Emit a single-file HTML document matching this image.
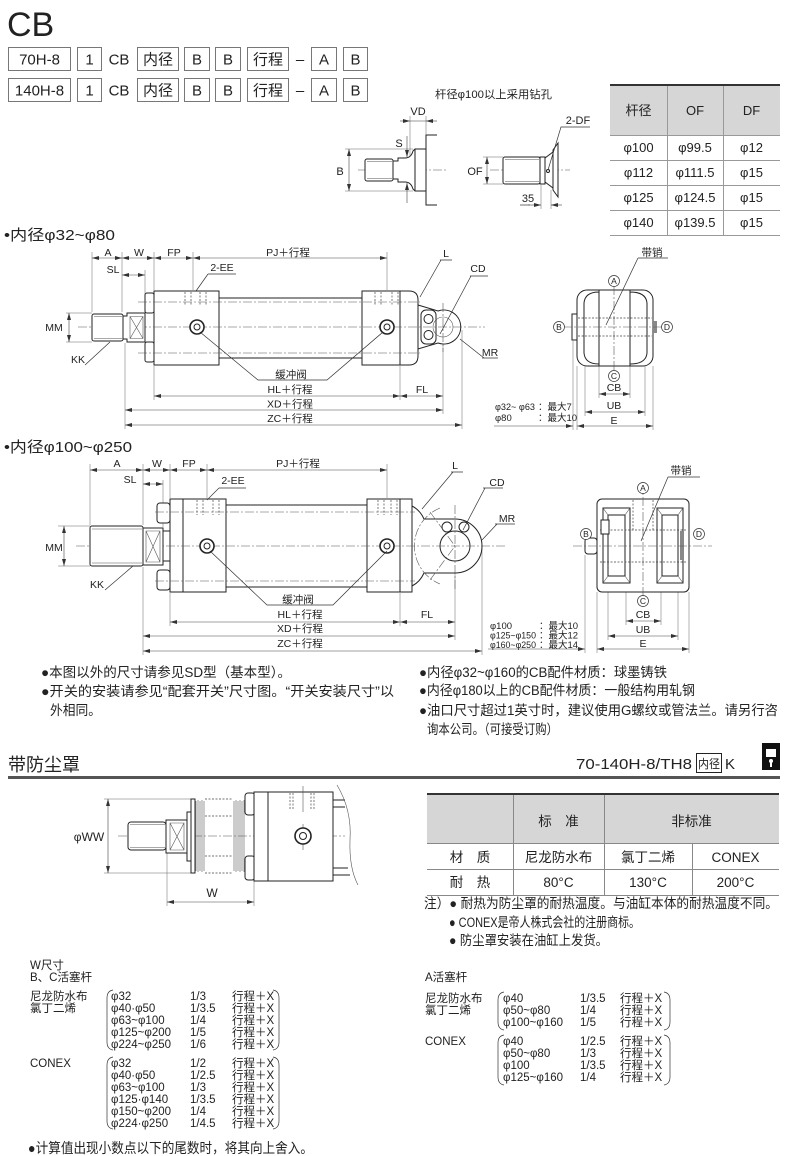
<!DOCTYPE html>
<html><head><meta charset="utf-8"><style>
html,body{margin:0;padding:0;background:#fff}
svg{display:block}
text{font-family:"Liberation Sans","Noto Sans CJK SC",sans-serif;fill:#222}
.o{stroke:#222;stroke-width:1;fill:#fff}
.n{stroke:#222;stroke-width:1;fill:none}
.b{stroke:#777;stroke-width:1;fill:none}
.t{stroke:#555;stroke-width:0.6;fill:none}
.c{stroke:#555;stroke-width:0.6;fill:none;stroke-dasharray:9 2 2 2}
.h{stroke:#444;stroke-width:0.7;fill:none;stroke-dasharray:2 1.5}
.d{stroke:#444;stroke-width:0.6;fill:none;marker-start:url(#ar);marker-end:url(#ar)}
.e{stroke:#444;stroke-width:0.6;fill:none;marker-end:url(#ar)}
.x{stroke:#666;stroke-width:0.5;fill:none}
.l{stroke:#333;stroke-width:0.7;fill:none}
</style></head><body>
<svg width="790" height="1156" viewBox="0 0 790 1156" xmlns="http://www.w3.org/2000/svg">
<defs>
<marker id="ar" markerUnits="userSpaceOnUse" markerWidth="7" markerHeight="5" refX="7" refY="2.5" orient="auto-start-reverse"><path d="M0,0.5L7,2.5L0,4.5z" fill="#333"/></marker>
</defs>

<!-- ===== Header ===== -->
<text x="7" y="36" font-size="34">CB</text>
<g class="b">
<rect x="8.5" y="47.5" width="62" height="23"/><rect x="77.5" y="47.5" width="24" height="23"/>
<rect x="137.5" y="47.5" width="41" height="23"/><rect x="184.5" y="47.5" width="25" height="23"/>
<rect x="215.5" y="47.5" width="25" height="23"/><rect x="247.5" y="47.5" width="41" height="23"/>
<rect x="311.5" y="47.5" width="25" height="23"/><rect x="343.5" y="47.5" width="24" height="23"/>
<rect x="8.5" y="78.5" width="62" height="23"/><rect x="77.5" y="78.5" width="24" height="23"/>
<rect x="137.5" y="78.5" width="41" height="23"/><rect x="184.5" y="78.5" width="25" height="23"/>
<rect x="215.5" y="78.5" width="25" height="23"/><rect x="247.5" y="78.5" width="41" height="23"/>
<rect x="311.5" y="78.5" width="25" height="23"/><rect x="343.5" y="78.5" width="24" height="23"/>
</g>
<g font-size="15" text-anchor="middle">
<text x="39.5" y="64.5">70H-8</text><text x="89.5" y="64.5">1</text><text x="119" y="64.5">CB</text>
<text x="158" y="64.5">内径</text><text x="197" y="64.5">B</text><text x="228" y="64.5">B</text>
<text x="268" y="64.5">行程</text><text x="300" y="64.5">–</text><text x="324" y="64.5">A</text><text x="355.5" y="64.5">B</text>
<text x="39.5" y="95.5">140H-8</text><text x="89.5" y="95.5">1</text><text x="119" y="95.5">CB</text>
<text x="158" y="95.5">内径</text><text x="197" y="95.5">B</text><text x="228" y="95.5">B</text>
<text x="268" y="95.5">行程</text><text x="300" y="95.5">–</text><text x="324" y="95.5">A</text><text x="355.5" y="95.5">B</text>
</g>

<!-- ===== Rod end details ===== -->
<text x="435" y="98" font-size="11" textLength="117" lengthAdjust="spacingAndGlyphs">杆径φ100以上采用钻孔</text>
<line class="c" x1="358" y1="170" x2="448" y2="170"/>
<rect class="o" x="365" y="159" width="28" height="22" rx="2"/>
<path class="t" d="M367,161.5H392M367,178.5H392"/>
<path class="o" d="M393,161H398V158H405Q411,158 413,151L415,149H426V191H415L413,189Q411,182 405,182H398V179H393Z"/>
<line class="n" x1="415" y1="149" x2="415" y2="191"/>
<path class="n" d="M437,135H426V205H437"/>
<path class="x" d="M345,149H413M345,191H413M410,116V156M426,116V135"/>
<line class="d" x1="349" y1="149" x2="349" y2="191"/>
<text x="340" y="175" font-size="11" text-anchor="middle">B</text>
<line class="e" x1="407" y1="136" x2="407" y2="157"/>
<line class="e" x1="407" y1="203" x2="407" y2="183"/>
<text x="399" y="147" font-size="11" text-anchor="middle">S</text>
<line class="e" x1="400" y1="121" x2="410" y2="121"/>
<line class="t" x1="410" y1="121" x2="426" y2="121"/>
<line class="e" x1="437" y1="121" x2="426" y2="121"/>
<text x="418" y="115" font-size="11" text-anchor="middle">VD</text>

<line class="c" x1="490" y1="170" x2="570" y2="170"/>
<rect class="o" x="503" y="157" width="37" height="27" rx="2"/>
<path class="t" d="M505,159.5H539M505,181.5H539"/>
<rect class="o" x="540" y="157" width="5" height="27"/>
<path class="o" d="M545,158L553,152V188L545,182Z"/>
<path class="o" d="M553,150L558,143V197L553,190Z"/>
<circle class="n" cx="548" cy="171" r="1.5"/>
<path class="x" d="M483,157H503M483,184H503M541,185V209M551,190V209"/>
<line class="d" x1="487" y1="157" x2="487" y2="184"/>
<text x="475" y="175" font-size="11" text-anchor="middle">OF</text>
<path class="l" d="M520,205H530"/>
<line class="e" x1="528" y1="205" x2="541" y2="205"/>
<line class="e" x1="562" y1="205" x2="551" y2="205"/>
<text x="528" y="202" font-size="11" text-anchor="middle">35</text>
<text x="578" y="124" font-size="11" text-anchor="middle">2-DF</text>
<path class="l" d="M590,127H561L548,170"/>

<!-- top-right table -->
<rect x="610" y="86" width="170" height="49" fill="#d6d6d6"/>
<line x1="610" y1="85" x2="780" y2="85" stroke="#333" stroke-width="2"/>
<path stroke="#999" stroke-width="1" fill="none" d="M610,135.5H780M610,160.5H780M610,185.5H780M610,210.5H780M610,235.5H780M667.5,86V235M723.5,86V235"/>
<g font-size="13" text-anchor="middle">
<text x="638.5" y="115">杆径</text><text x="695" y="115">OF</text><text x="751.5" y="115">DF</text>
<text x="638.5" y="152">φ100</text><text x="695" y="152">φ99.5</text><text x="751.5" y="152">φ12</text>
<text x="638.5" y="177">φ112</text><text x="695" y="177">φ111.5</text><text x="751.5" y="177">φ15</text>
<text x="638.5" y="202">φ125</text><text x="695" y="202">φ124.5</text><text x="751.5" y="202">φ15</text>
<text x="638.5" y="227">φ140</text><text x="695" y="227">φ139.5</text><text x="751.5" y="227">φ15</text>
</g>

<!-- ===== Section 1 ===== -->
<text x="4" y="240" font-size="15" textLength="111" lengthAdjust="spacingAndGlyphs">•内径φ32~φ80</text>
<g font-size="10.5" text-anchor="middle">
<text x="108" y="256">A</text><text x="139" y="256">W</text><text x="174" y="256">FP</text><text x="288" y="256">PJ＋行程</text>
<text x="113" y="273">SL</text><text x="222" y="271">2-EE</text>
<text x="291" y="378">缓冲阀</text><text x="290" y="393">HL＋行程</text><text x="422" y="393">FL</text>
<text x="290" y="407.5">XD＋行程</text><text x="290" y="422">ZC＋行程</text>
<text x="54" y="331">MM</text><text x="78" y="363">KK</text>
<text x="446" y="257">L</text><text x="478" y="272">CD</text><text x="490" y="356">MR</text>
</g>
<path class="x" d="M92,252V312M122,252V312M154,252V290M193,252V290M387,252V290M145,270V312M154,366V400M400,366V400M443,344V414M125,343V429M462,330V429M66,313H92M66,342H92"/>
<line class="d" x1="92" y1="258" x2="122" y2="258"/>
<line class="d" x1="122" y1="258" x2="154" y2="258"/>
<line class="d" x1="154" y1="258" x2="193" y2="258"/>
<line class="d" x1="193" y1="258" x2="387" y2="258"/>
<line class="d" x1="122" y1="275" x2="145" y2="275"/>
<line class="d" x1="154" y1="396" x2="400" y2="396"/>
<line class="d" x1="400" y1="396" x2="443" y2="396"/>
<line class="d" x1="125" y1="410" x2="443" y2="410"/>
<line class="d" x1="125" y1="425" x2="462" y2="425"/>
<line class="d" x1="69" y1="313" x2="69" y2="342"/>
<!-- body -->
<rect class="o" x="145" y="293" width="9" height="20" rx="2"/>
<rect class="o" x="145" y="342" width="9" height="20" rx="2"/>
<rect class="o" x="154" y="291" width="65" height="74"/>
<path class="n" d="M219,298H362M219,358H362"/>
<rect class="o" x="362" y="291" width="38" height="74"/>
<path class="o" d="M400,291H409Q418,291 418,300V356Q418,365 409,365H400Z"/>
<path class="o" d="M418,305L438,311A17,17 0 1 1 438,343L418,349Z"/>
<rect class="o" x="421" y="310" width="15" height="34" rx="5"/>
<circle class="o" cx="428.5" cy="319" r="4.5"/><circle class="o" cx="428.5" cy="335" r="4.5"/>
<circle class="t" cx="443" cy="327" r="10"/>
<path class="h" d="M185,292V305M191,292V305M200,292V305M206,292V305M375,292V305M381,292V305M392,292V305M398,292V305"/>
<path class="c" d="M138,302H420M138,353H420M78,327H485M443,303V352"/>
<rect class="o" x="92" y="314" width="31" height="27" rx="2"/>
<path class="t" d="M94,316.5H122M94,338.5H122"/>
<path class="o" d="M123,316H127V313H145V342H127V339H123Z"/>
<path class="t" d="M130,316.5H143V338.5H130ZM130,316.5L143,338.5M143,316.5L130,338.5"/>
<circle cx="197" cy="327" r="7" fill="#fff" stroke="#222" stroke-width="1.6"/><circle class="n" cx="197" cy="327" r="3"/>
<circle cx="387" cy="327" r="7" fill="#fff" stroke="#222" stroke-width="1.6"/><circle class="n" cx="387" cy="327" r="3"/>
<path class="l" d="M208,274H236M208,274L196,291M200,332L258,380H327L383,332M85,365L110,342M441,260L420,297M471,276L440,334M484,358L460,339"/>
<path class="l" d="M440,260H452M470,276H488M482,358H498"/>

<!-- side view 1 -->
<path class="x" d="M599,366V398M630,366V398M585,366V416M645,366V416M577,366V430M653,366V430M573,341V430"/>
<rect class="o" x="577" y="290" width="76" height="76" rx="10"/>
<path class="n" d="M599,290V366M630,290V366M599,292Q585,292 584,303V353Q585,364 599,364M630,292Q646,292 647,303V353Q646,364 630,364"/>
<path class="h" d="M578,318H652M578,336H652"/>
<rect class="o" x="572" y="314" width="5" height="26"/>
<rect x="653" y="321" width="4" height="12" fill="#888"/>
<path class="c" d="M614,286V372M563,327H662"/>
<path class="l" d="M638,258H668M638,258L606,325"/>
<text x="652" y="256" font-size="10.5" text-anchor="middle">带销</text>
<g font-size="8.5" text-anchor="middle">
<circle cx="614" cy="281" r="5.5" fill="#fff" stroke="#333" stroke-width="0.7"/><text x="614" y="284">A</text>
<circle cx="559" cy="327" r="5.5" fill="#fff" stroke="#333" stroke-width="0.7"/><text x="559" y="330">B</text>
<circle cx="667" cy="327" r="5.5" fill="#fff" stroke="#333" stroke-width="0.7"/><text x="667" y="330">D</text>
<circle cx="614" cy="376" r="5.5" fill="#fff" stroke="#333" stroke-width="0.7"/><text x="614" y="379">C</text>
</g>
<line class="d" x1="599" y1="394" x2="630" y2="394"/>
<line class="d" x1="585" y1="412" x2="645" y2="412"/>
<line class="d" x1="577" y1="426" x2="653" y2="426"/>
<line class="e" x1="494" y1="426" x2="573" y2="426"/>
<g font-size="10.5" text-anchor="middle"><text x="614" y="391">CB</text><text x="614" y="409">UB</text><text x="614" y="424">E</text></g>
<g font-size="9.5"><text x="495" y="410" textLength="40" lengthAdjust="spacingAndGlyphs">φ32~ φ63</text><text x="538" y="410">：最大7</text><text x="495" y="421">φ80</text><text x="538" y="421">：最大10</text></g>

<!-- ===== Section 2 ===== -->
<text x="4" y="452" font-size="15" textLength="128" lengthAdjust="spacingAndGlyphs">•内径φ100~φ250</text>
<g font-size="10.5" text-anchor="middle">
<text x="117" y="467">A</text><text x="157" y="467">W</text><text x="189" y="467">FP</text><text x="298" y="467">PJ＋行程</text>
<text x="130" y="483">SL</text><text x="233" y="484">2-EE</text>
<text x="298" y="603">缓冲阀</text><text x="300" y="618">HL＋行程</text><text x="427" y="618">FL</text>
<text x="300" y="632">XD＋行程</text><text x="300" y="647">ZC＋行程</text>
<text x="54" y="551">MM</text><text x="97" y="588">KK</text>
<text x="455" y="469">L</text><text x="497" y="486">CD</text><text x="507" y="522">MR</text>
</g>
<path class="x" d="M90,464V525M143,464V525M170,464V498M207,464V498M387,464V498M163,480V527M170,593V626M400,593V626M455,560V640M143,567V655M482,546V655M58,526H90M58,566H90"/>
<line class="d" x1="90" y1="470" x2="143" y2="470"/>
<line class="d" x1="143" y1="470" x2="170" y2="470"/>
<line class="d" x1="170" y1="470" x2="207" y2="470"/>
<line class="d" x1="207" y1="470" x2="387" y2="470"/>
<line class="d" x1="143" y1="484" x2="163" y2="484"/>
<line class="d" x1="170" y1="622" x2="400" y2="622"/>
<line class="d" x1="400" y1="622" x2="455" y2="622"/>
<line class="d" x1="143" y1="636" x2="455" y2="636"/>
<line class="d" x1="143" y1="651" x2="482" y2="651"/>
<line class="d" x1="64" y1="526" x2="64" y2="566"/>
<rect class="o" x="157" y="503" width="13" height="20" rx="3"/>
<rect class="o" x="157" y="570" width="13" height="20" rx="3"/>
<rect class="o" x="170" y="499" width="56" height="93"/>
<line class="n" x1="183" y1="499" x2="183" y2="592"/>
<path class="n" d="M226,505H367M226,587H367"/>
<rect class="o" x="367" y="499" width="45" height="93"/>
<line class="n" x1="400" y1="499" x2="400" y2="592"/>
<path class="o" d="M412,506Q420,510 424,519L455,519A27,27 0 0 1 455,573L424,573Q420,582 412,586Z"/>
<circle class="n" cx="455" cy="546" r="15"/>
<circle class="n" cx="447" cy="527" r="5"/><circle class="n" cx="464" cy="527" r="5"/>
<path class="c" d="M440,508A41,41 0 0 0 440,584M430,512L455,546L430,580"/>
<path class="h" d="M197,500V515M203,500V515M213,500V515M219,500V515M378,500V515M384,500V515M391,500V515M397,500V515"/>
<path class="c" d="M155,512H415M155,581H415M76,546H505M455,505V590"/>
<rect class="o" x="90" y="526" width="53" height="40" rx="2"/>
<path class="t" d="M92,529H142M92,563H142"/>
<path class="o" d="M143,528H163V565H143Z"/>
<path class="t" d="M146,531H160V562H146ZM146,531L160,562M160,531L146,562"/>
<path class="n" d="M163,531H170M163,561H170"/>
<circle cx="207" cy="546" r="7" fill="#fff" stroke="#222" stroke-width="1.6"/><circle class="n" cx="207" cy="546" r="3"/>
<circle cx="387" cy="546" r="7" fill="#fff" stroke="#222" stroke-width="1.6"/><circle class="n" cx="387" cy="546" r="3"/>
<path class="l" d="M219,488H246M219,488L207,500M210,551L267,605H333L387,551M105,590L133,566M451,472H463M453,472L422,509M483,488H503M485,488L463,530M495,524H515M497,524L482,540"/>

<!-- side view 2 -->
<path class="x" d="M626,562V625M661,562V625M608,592V640M678,592V640M597,592V653M689,592V653M585,555V653"/>
<rect class="o" x="597" y="499" width="92" height="93" rx="5"/>
<rect class="n" x="603" y="508" width="27" height="75"/><rect class="n" x="608" y="515" width="17" height="61"/>
<path class="t" d="M603,508L608,515M630,508L625,515M603,583L608,576M630,583L625,576"/>
<rect class="n" x="657" y="508" width="26" height="75"/><rect class="n" x="662" y="515" width="16" height="61"/>
<path class="t" d="M657,508L662,515M683,508L678,515M657,583L662,576M683,583L678,576"/>
<path class="h" d="M633,500V530M653,500V530M600,530H686M600,562H686"/>
<rect class="o" x="585" y="538" width="12" height="16" rx="3"/>
<rect class="o" x="601" y="520" width="8" height="14"/>
<rect x="680" y="531" width="4" height="29" fill="#888"/>
<path class="c" d="M643,482V607M573,546H712"/>
<path class="l" d="M668,477H700M668,477L641,541"/>
<text x="681" y="474" font-size="10.5" text-anchor="middle">带销</text>
<g font-size="8.5" text-anchor="middle">
<circle cx="643" cy="488" r="5.5" fill="#fff" stroke="#333" stroke-width="0.7"/><text x="643" y="491">A</text>
<circle cx="586" cy="534" r="5.5" fill="#fff" stroke="#333" stroke-width="0.7"/><text x="586" y="537">B</text>
<circle cx="699" cy="534" r="5.5" fill="#fff" stroke="#333" stroke-width="0.7"/><text x="699" y="537">D</text>
<circle cx="643" cy="601" r="5.5" fill="#fff" stroke="#333" stroke-width="0.7"/><text x="643" y="604">C</text>
</g>
<line class="d" x1="626" y1="621" x2="661" y2="621"/>
<line class="d" x1="608" y1="636" x2="678" y2="636"/>
<line class="d" x1="597" y1="649" x2="689" y2="649"/>
<line class="e" x1="488" y1="649" x2="585" y2="649"/>
<g font-size="10.5" text-anchor="middle"><text x="643" y="618">CB</text><text x="643" y="633">UB</text><text x="643" y="647">E</text></g>
<g font-size="9.5"><text x="490" y="629">φ100</text><text x="539" y="629">：最大10</text>
<text x="490" y="638.5" textLength="46" lengthAdjust="spacingAndGlyphs">φ125~φ150</text><text x="539" y="638.5">：最大12</text>
<text x="490" y="648" textLength="46" lengthAdjust="spacingAndGlyphs">φ160~φ250</text><text x="539" y="648">：最大14</text></g>

<!-- ===== Notes ===== -->
<g font-size="13.5">
<text x="41" y="677" textLength="250" lengthAdjust="spacingAndGlyphs">●本图以外的尺寸请参见SD型（基本型）。</text>
<text x="41" y="696" textLength="353" lengthAdjust="spacingAndGlyphs">●开关的安装请参见“配套开关”尺寸图。“开关安装尺寸”以</text>
<text x="50" y="715" textLength="51" lengthAdjust="spacingAndGlyphs">外相同。</text>
<text x="419" y="677" textLength="248" lengthAdjust="spacingAndGlyphs">●内径φ32~φ160的CB配件材质：球墨铸铁</text>
<text x="419" y="695" textLength="276" lengthAdjust="spacingAndGlyphs">●内径φ180以上的CB配件材质：一般结构用轧钢</text>
<text x="419" y="715" textLength="359" lengthAdjust="spacingAndGlyphs">●油口尺寸超过1英寸时，建议使用G螺纹或管法兰。请另行咨</text>
<text x="427" y="734" textLength="131" lengthAdjust="spacingAndGlyphs">询本公司。（可接受订购）</text>
</g>

<!-- ===== Dust cover ===== -->
<text x="8" y="771" font-size="18">带防尘罩</text>
<line x1="8" y1="777.5" x2="780" y2="777.5" stroke="#555" stroke-width="3"/>
<text x="576" y="769" font-size="15" textLength="116" lengthAdjust="spacingAndGlyphs">70-140H-8/TH8</text>
<rect class="n" x="696.5" y="753.5" width="25" height="19"/>
<text x="698" y="768" font-size="12" textLength="22" lengthAdjust="spacingAndGlyphs">内径</text>
<text x="725" y="769" font-size="15">K</text>
<rect x="762" y="743" width="18" height="27" fill="#111"/>
<rect x="766" y="749" width="10" height="8" fill="#fff"/>
<circle cx="771" cy="761" r="2" fill="#fff"/><rect x="770" y="761" width="2" height="6" fill="#fff"/>

<path class="x" d="M104,799H192M104,873H192M167,853V906M254,881V906"/>
<line class="d" x1="108" y1="799" x2="108" y2="873"/>
<text x="89" y="841" font-size="12" text-anchor="middle">φWW</text>
<line class="d" x1="167" y1="902" x2="254" y2="902"/>
<text x="212" y="897" font-size="12" text-anchor="middle">W</text>
<path class="c" d="M118,836H345"/>
<rect class="o" x="128" y="822" width="38" height="28" rx="3"/>
<path class="t" d="M130,824.5H165M130,847.5H165"/>
<rect class="o" x="166" y="820" width="21" height="33"/>
<path class="t" d="M170,823H184V850H170ZM170,823L184,850M184,823L170,850"/>
<rect class="o" x="187" y="812" width="4" height="49"/>
<rect class="o" x="191" y="799" width="4" height="74"/>
<path class="t" d="M196,801V871M198,800V872M200,801V871M202,800V872M204,801V871M234,801V871M236,800V872M238,801V871M240,800V872M242,801V871M244,800V872"/>
<path class="h" d="M205,799H233M205,873H233M205,816H233M205,856H233"/>
<path class="c" d="M245,805H333M245,867H333"/>
<rect class="o" x="245" y="793" width="10" height="22" rx="3"/>
<rect class="o" x="245" y="856" width="10" height="24" rx="3"/>
<rect class="o" x="254" y="792" width="79" height="89"/>
<line class="n" x1="268" y1="792" x2="268" y2="881"/>
<path class="h" d="M290,793V810M293,793V810M311,793V810M314,793V810"/>
<path class="t" d="M303,786V812M303,824V850"/>
<circle cx="303" cy="836" r="8" fill="#fff" stroke="#222" stroke-width="1.6"/><circle class="n" cx="303" cy="836" r="3.5"/>
<path class="n" d="M333,800H345M333,807H345M333,868H348M333,875H350"/>
<path class="t" d="M337,785Q352,810 350,840Q349,868 358,885"/>

<!-- dust table -->
<rect x="427" y="795" width="352" height="48" fill="#d6d6d6"/>
<line x1="427" y1="794" x2="779" y2="794" stroke="#333" stroke-width="2"/>
<path stroke="#888" stroke-width="1" fill="none" d="M427,843.5H779M427,869.5H779M427,895.5H779M513.5,795V895M604.5,795V895M692.5,843V895"/>
<g font-size="13.5" text-anchor="middle">
<text x="558.5" y="826">标　准</text><text x="691.5" y="826">非标准</text>
<text x="470" y="862">材　质</text><text x="558.5" y="862">尼龙防水布</text><text x="648" y="862">氯丁二烯</text><text x="735.5" y="862">CONEX</text>
<text x="470" y="887">耐　热</text><text x="558.5" y="887">80°C</text><text x="648" y="887">130°C</text><text x="735.5" y="887">200°C</text>
</g>
<g font-size="13.5">
<text x="424" y="908" textLength="354" lengthAdjust="spacingAndGlyphs">注）● 耐热为防尘罩的耐热温度。与油缸本体的耐热温度不同。</text>
<text x="449" y="927" textLength="191" lengthAdjust="spacingAndGlyphs">● CONEX是帝人株式会社的注册商标。</text>
<text x="449" y="945" textLength="159" lengthAdjust="spacingAndGlyphs">● 防尘罩安装在油缸上发货。</text>
</g>

<!-- W size lists -->
<g font-size="11.5">
<text x="30" y="969">W尺寸</text><text x="30" y="981">B、C活塞杆</text>
<text x="30" y="1000">尼龙防水布</text><text x="30" y="1012">氯丁二烯</text>
<text x="111" y="1000">φ32</text><text x="190" y="1000">1/3</text><text x="232" y="1000">行程＋X</text>
<text x="111" y="1012">φ40·φ50</text><text x="190" y="1012">1/3.5</text><text x="232" y="1012">行程＋X</text>
<text x="111" y="1024">φ63~φ100</text><text x="190" y="1024">1/4</text><text x="232" y="1024">行程＋X</text>
<text x="111" y="1036">φ125~φ200</text><text x="190" y="1036">1/5</text><text x="232" y="1036">行程＋X</text>
<text x="111" y="1048">φ224~φ250</text><text x="190" y="1048">1/6</text><text x="232" y="1048">行程＋X</text>
<text x="30" y="1067">CONEX</text>
<text x="111" y="1067">φ32</text><text x="190" y="1067">1/2</text><text x="232" y="1067">行程＋X</text>
<text x="111" y="1079">φ40·φ50</text><text x="190" y="1079">1/2.5</text><text x="232" y="1079">行程＋X</text>
<text x="111" y="1091">φ63~φ100</text><text x="190" y="1091">1/3</text><text x="232" y="1091">行程＋X</text>
<text x="111" y="1103">φ125·φ140</text><text x="190" y="1103">1/3.5</text><text x="232" y="1103">行程＋X</text>
<text x="111" y="1115">φ150~φ200</text><text x="190" y="1115">1/4</text><text x="232" y="1115">行程＋X</text>
<text x="111" y="1127">φ224·φ250</text><text x="190" y="1127">1/4.5</text><text x="232" y="1127">行程＋X</text>

<text x="425" y="981">A活塞杆</text>
<text x="425" y="1002">尼龙防水布</text><text x="425" y="1014">氯丁二烯</text>
<text x="503" y="1002">φ40</text><text x="580" y="1002">1/3.5</text><text x="620" y="1002">行程＋X</text>
<text x="503" y="1014">φ50~φ80</text><text x="580" y="1014">1/4</text><text x="620" y="1014">行程＋X</text>
<text x="503" y="1026">φ100~φ160</text><text x="580" y="1026">1/5</text><text x="620" y="1026">行程＋X</text>
<text x="425" y="1045">CONEX</text>
<text x="503" y="1045">φ40</text><text x="580" y="1045">1/2.5</text><text x="620" y="1045">行程＋X</text>
<text x="503" y="1057">φ50~φ80</text><text x="580" y="1057">1/3</text><text x="620" y="1057">行程＋X</text>
<text x="503" y="1069">φ100</text><text x="580" y="1069">1/3.5</text><text x="620" y="1069">行程＋X</text>
<text x="503" y="1081">φ125~φ160</text><text x="580" y="1081">1/4</text><text x="620" y="1081">行程＋X</text>
</g>
<path class="l" d="M113,990Q107,991 107,998V1042Q107,1049 113,1050M273,990Q279,991 279,998V1042Q279,1049 273,1050"/>
<path class="l" d="M113,1057Q107,1058 107,1065V1121Q107,1128 113,1129M273,1057Q279,1058 279,1065V1121Q279,1128 273,1129"/>
<path class="l" d="M504,992Q498,993 498,1000V1022Q498,1029 504,1030M664,992Q670,993 670,1000V1022Q670,1029 664,1030"/>
<path class="l" d="M504,1035Q498,1036 498,1043V1077Q498,1084 504,1085M664,1035Q670,1036 670,1043V1077Q670,1084 664,1085"/>

<text x="28" y="1153" font-size="14" textLength="285" lengthAdjust="spacingAndGlyphs">●计算值出现小数点以下的尾数时，将其向上舍入。</text>
</svg>
</body></html>
